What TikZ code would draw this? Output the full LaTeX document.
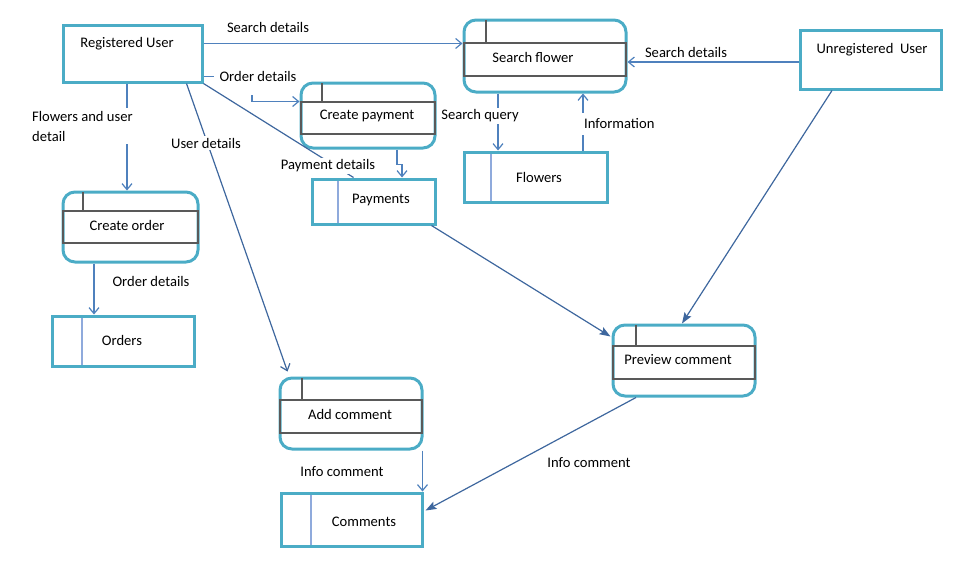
\documentclass[tikz,border=0pt]{standalone}
\usepackage{fontspec}
\setmainfont{Carlito}
\usetikzlibrary{arrows.meta,calc}
\definecolor{teal}{HTML}{4BACC6}
\definecolor{bandgray}{HTML}{595959}
\definecolor{flowblue}{HTML}{4F81BD}
\definecolor{darkflow}{HTML}{3E679E}
\definecolor{divblue}{HTML}{8FAADC}
\tikzset{
  boxline/.style={draw=teal, line width=3pt, inner sep=0pt},
  terminal/.style={boxline, rectangle},
  procbox/.style={boxline, rectangle, rounded corners=12pt},
  storebox/.style={boxline, rectangle},
  bandline/.style={draw=bandgray, line width=1.5pt},
  divline/.style={draw=divblue, line width=1.6pt},
  txt/.style={font=\fontsize{14.6}{17}\selectfont, inner sep=0pt, text=black},
  lbl/.style={font=\fontsize{14.6}{17}\selectfont, inner sep=2pt, fill=white, text=black},
  flow/.style={draw=flowblue, line width=1.2pt, -{Straight Barb[length=6pt,width=10pt,line width=1.2pt]}},
  plainflow/.style={draw=flowblue, line width=1.2pt},
  darkarrow/.style={draw=darkflow, line width=1.2pt, -{Stealth[length=11pt,width=8pt,inset=2pt]}},
  darkbarb/.style={draw=darkflow, line width=1.2pt, -{Straight Barb[length=6pt,width=10pt,line width=1.2pt]}},
  darkline/.style={draw=darkflow, line width=1.2pt}
}
% process: name, x1, y1, x2, y2, band top, band bottom, tab x
\newcommand\procshape[8]{%
  \node[procbox, minimum width={#4-#2}, minimum height={#5-#3}] (#1) at ({(#2+#4)/2},{(#3+#5)/2}) {};
  \draw[bandline] (#2,#6) rectangle (#4,#7);
  \draw[bandline] (#8,#3) -- (#8,#6);
}
% store: name, x1, y1, x2, y2, divider x
\newcommand\storeshape[6]{%
  \node[storebox, minimum width={#4-#2}, minimum height={#5-#3}] (#1) at ({(#2+#4)/2},{(#3+#5)/2}) {};
  \draw[divline] (#6,{#3+1.5}) -- (#6,{#5-1.5});
}
\begin{document}
\begin{tikzpicture}[x=1pt,y=-1pt]
\useasboundingbox (0,0) rectangle (966,560);

% external entities
\node[terminal, minimum width=139, minimum height=57] (ru) at (132.5,53.5) {};
\node[txt] (ru-t) at (127,44) {Registered User};
\node[terminal, minimum width=141, minimum height=59] (ur) at (870.5,59.5) {};
\node[txt] (ur-t) at (872,50) {Unregistered~ User};

% processes
\procshape{sf}{464}{20}{626}{92}{43}{76}{486}
\node[txt] (sf-t) at (533,57) {Search flower};
\procshape{cp}{301}{83}{435}{148}{102}{134}{322}
\node[txt] (cp-t) at (367,116) {Create payment};
\procshape{co}{63}{192}{198}{262}{211}{243}{83}
\node[txt] (co-t) at (127,225) {Create order};
\procshape{ac}{280}{378}{422}{449}{400}{433}{302}
\node[txt] (ac-t) at (350,414) {Add comment};
\procshape{pc}{613}{325}{755}{396}{346}{379}{636}
\node[txt] (pc-t) at (678,360) {Preview comment};

% data stores
\storeshape{pay}{312}{179}{435}{224}{338}
\node[txt] (pay-t) at (381,200) {Payments};
\storeshape{fl}{464}{152}{607}{202}{491}
\node[txt] (fl-t) at (539,177) {Flowers};
\storeshape{ord}{52}{316}{194}{366}{82}
\node[txt] (ord-t) at (122,340) {Orders};
\storeshape{cm}{281}{493}{422}{546}{311}
\node[txt] (cm-t) at (364,522) {Comments};

% connectors
\coordinate (a1) at ($(ru.north east)!0.333!(ru.south east)$);
\draw[flow] (a1) -- (a1 -| sf.west);
\coordinate (a2) at ($(ur.west)+(0,2.5)$);
\draw[flow] (a2) -- (a2 -| sf.east);

\coordinate (a3) at ($(ru.south east)+(0,-7)$);
\draw[plainflow] (a3) -- ++(10,0);
\coordinate (a4) at (252,95);
\draw[flow] (a4) |- ($(cp.west)+(0,-14)$);

\draw[darkline] (ru.south east) -- ($(pay.north)+(-20,0)$);

\coordinate (a5) at ($(cp.south)+(29,0)$);
\draw[flow] (a5) -- ++(0,15) -- ++(5,0) -- ($(pay.north)+(28.5,0)$);

\coordinate (a6) at ($(ru.south)+(-5.5,0)$);
\draw[flow] (a6) -- (a6 |- co.north);

\draw[darkbarb] ($(ru.south east)+(-17,0)$) -- ($(ac.north west)+(9,-5)$);

\coordinate (a7) at ($(co.south)+(-36.5,0)$);
\draw[flow] (a7) -- (a7 |- ord.north);

\coordinate (a8) at ($(sf.south)+(-47,0)$);
\draw[flow] (a8) -- (a8 |- fl.north);
\coordinate (a9) at ($(fl.north)+(47.5,0)$);
\draw[flow] (a9) -- (a9 |- sf.south);

\draw[darkarrow] ($(pay.south east)+(-5,0)$) -- ($(pc.north west)+(-1,13)$);
\draw[darkarrow] ($(ur.south)+(-38.5,0)$) -- ($(pc.north)+(-2,0)$);
\draw[darkarrow] ($(pc.south)+(-48,0)$) -- ($(cm.east)+(2,-9)$);

\coordinate (a10) at ($(ac.south east)+(-1,0)$);
\draw[flow] (a10) -- (a10 |- cm.north);

% labels
\node[lbl] (l1) at (268,27) {Search details};
\node[lbl] (l2) at (686,52) {Search details};
\node[lbl] (l3) at (258,76) {Order details};
\node[lbl, anchor=west, align=left, inner sep=3pt] (l4) at (29,126) {Flowers and user\\[3pt]detail};
\node[lbl] (l5) at (206,143) {User details};
\node[lbl] (l6) at (328,166) {Payment details};
\node[lbl] (l7) at (480,116) {Search query};
\node[lbl, anchor=west, inner ysep=6pt] (l8) at (582,124) {Information};
\node[lbl] (l9) at (151,281) {Order details};
\node[lbl] (l10) at (589,463) {Info comment};
\node[lbl] (l11) at (342,472) {Info comment};
\end{tikzpicture}
\end{document}
